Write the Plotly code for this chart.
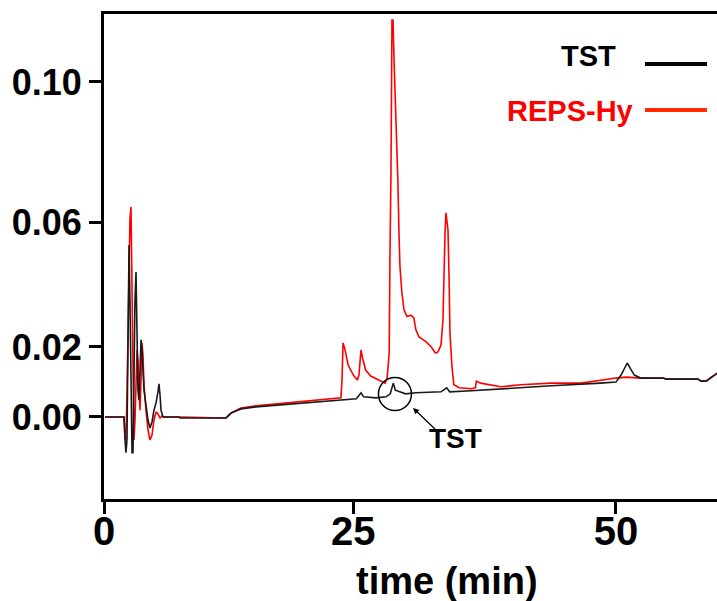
import plotly.graph_objects as go

# chromatogram traces (time in min, absorbance)
time_tst = [0.1, 1.95, 2.05, 2.14, 2.24, 2.34, 2.44, 2.53, 2.63, 2.73,
            2.83, 2.92, 3.02, 3.12, 3.22, 3.31, 3.41, 3.51, 3.61, 3.70,
            3.80, 3.90, 4.09, 4.29, 4.48, 4.68, 4.87, 5.07, 5.26, 5.36,
            5.46, 5.56, 5.75, 7.31, 7.41, 11.9, 12.4, 13.35, 14.8, 17.25,
            19.2, 21.15, 23.6, 24.6, 25.05, 25.3, 26.5, 27.5, 27.9, 28.2,
            28.4, 28.8, 29.4, 30.4, 32.85, 33.4, 33.7, 35.8, 38.7, 43.6,
            48.4, 49.9, 50.4, 51.0, 51.4, 51.7, 52.3, 54.5, 54.8, 57.9,
            58.2, 58.7, 59.2, 59.8]
abs_tst = [0, 0, -0.0069, -0.0107, -0.0069, 0.026, 0.0513, 0.035, 0.005, -0.0107,
           -0.0107, 0.014, 0.035, 0.0433, 0.026, 0.008, 0.005, 0.017, 0.023, 0.020,
           0.014, 0.008, 0.0036, -0.001, -0.0033, -0.0015, 0.002, 0.0042, 0.0075, 0.0099,
           0.0066, 0.002, 0.0, 0.0, -0.0003, -0.0003, 0.0012, 0.0024, 0.003, 0.0036,
           0.0039, 0.0045, 0.0051, 0.0054, 0.0072, 0.006, 0.0057, 0.006, 0.0069, 0.0101,
           0.008, 0.0075, 0.0069, 0.0072, 0.0075, 0.0087, 0.0075, 0.0078, 0.0084, 0.0093,
           0.0101, 0.0104, 0.0125, 0.0161, 0.014, 0.0125, 0.0116, 0.0116, 0.0113, 0.0113,
           0.0107, 0.0107, 0.0119, 0.0131]

time_reps = [0.1, 1.95, 2.05, 2.14, 2.24, 2.34, 2.44, 2.53, 2.63, 2.73,
             2.83, 2.92, 3.02, 3.12, 3.22, 3.31, 3.41, 3.51, 3.61, 3.70,
             3.80, 3.90, 4.09, 4.29, 4.48, 4.68, 4.87, 5.07, 5.26, 5.46,
             5.65, 5.85, 7.31, 11.9, 12.4, 13.35, 14.8, 17.25, 19.2, 21.15,
             22.6, 23.1, 23.2, 23.3, 23.45, 23.8, 24.3, 24.7, 24.85, 24.95,
             25.05, 25.2, 25.5, 26.0, 26.8, 27.4, 27.6, 27.8, 27.87, 27.97,
             28.07, 28.17, 28.27, 28.36, 28.56, 28.65, 28.75, 28.85, 29.04, 29.24,
             29.53, 29.92, 30.2, 30.4, 30.7, 31.4, 31.9, 32.3, 32.55, 32.85,
             33.04, 33.14, 33.24, 33.33, 33.43, 33.53, 33.63, 33.72, 33.92, 34.1,
             34.6, 35.8, 36.2, 36.3, 36.7, 37.7, 38.7, 40.6, 43.6, 46.5,
             48.4, 49.9, 50.9, 51.8, 52.3, 54.5, 54.8, 57.9, 58.2, 58.7,
             59.2, 59.8]
abs_reps = [0, 0, -0.0063, -0.0069, 0.0066, 0.023, 0.047, 0.059, 0.0627, 0.035,
            0.005, -0.0069, -0.001, 0.011, 0.020, 0.017, 0.008, 0.002, 0.011, 0.0221,
            0.0185, 0.0096, 0.002, -0.0039, -0.0069, -0.0054, -0.0009, 0.0015, 0.0009, -0.0003,
            0.0003, 0.0, 0.0, -0.0003, 0.0012, 0.0027, 0.0033, 0.0040, 0.0044, 0.0050,
            0.0054, 0.0057, 0.011, 0.0221, 0.0206, 0.0155, 0.0125, 0.011, 0.0125, 0.0176,
            0.020, 0.0176, 0.014, 0.0122, 0.011, 0.0101, 0.0116, 0.0191, 0.047, 0.0728,
            0.1185, 0.1185, 0.1066, 0.0985, 0.0836, 0.070, 0.055, 0.0448, 0.037, 0.032,
            0.030, 0.0304, 0.0296, 0.026, 0.0239, 0.0224, 0.0209, 0.0191, 0.0194, 0.0215,
            0.029, 0.0439, 0.055, 0.0609, 0.0573, 0.0558, 0.0424, 0.0251, 0.0149, 0.0096,
            0.0087, 0.0084, 0.0087, 0.0107, 0.0101, 0.0096, 0.009, 0.0096, 0.0101, 0.0101,
            0.011, 0.0116, 0.0119, 0.0116, 0.0116, 0.0116, 0.0113, 0.0113, 0.0107, 0.0107,
            0.0119, 0.0131]

assert len(time_tst) == len(abs_tst), (len(time_tst), len(abs_tst))
assert len(time_reps) == len(abs_reps), (len(time_reps), len(abs_reps))

# tick positions as printed on the original (spacing is slightly uneven there)
x_tickvals = [0, 24.3, 49.9]
x_ticktext = ['0', '25', '50']
y_tickvals = [0, 0.0209, 0.0582, 0.10]
y_ticktext = ['0.00', '0.02', '0.06', '0.10']

FONT = 'Liberation Sans'

fig = go.Figure()
fig.add_trace(go.Scatter(x=time_reps, y=abs_reps, mode='lines', name='REPS-Hy',
                         line=dict(color='#ff0000', width=1.6)))
fig.add_trace(go.Scatter(x=time_tst, y=abs_tst, mode='lines', name='TST',
                         line=dict(color='#1a1a1a', width=1.6)))

# circled TST peak + arrow + label
fig.add_shape(type='circle', xref='x', yref='y', x0=26.75, x1=29.97, y0=0.0019, y1=0.0118,
              line=dict(color='black', width=1.5))
fig.add_annotation(x=30.12, y=0.0027, text='', showarrow=True, ax=25, ay=24,
                   arrowhead=2, arrowsize=1, arrowwidth=1.2, arrowcolor='black')
fig.add_annotation(x=(455 - 104) / 613, y=(499 - 438) / 485, xref='paper', yref='paper',
                   text='TST', showarrow=False, xanchor='center', yanchor='middle',
                   font=dict(family=FONT, size=28, color='black', weight='bold'))

# legend drawn by hand: label left of the line sample
fig.add_annotation(x=(618 - 104) / 613, y=(499 - 56) / 485, xref='paper', yref='paper',
                   text='TST', showarrow=False, xanchor='right', yanchor='middle',
                   font=dict(family=FONT, size=29, color='black', weight='bold'))
fig.add_annotation(x=(635 - 104) / 613, y=(499 - 111) / 485, xref='paper', yref='paper',
                   text='REPS-Hy', showarrow=False, xanchor='right', yanchor='middle',
                   font=dict(family=FONT, size=29, color='#ff0000', weight='bold'))
fig.add_shape(type='line', xref='paper', yref='paper',
              x0=(645 - 104) / 613, x1=(707 - 104) / 613,
              y0=(499 - 64) / 485, y1=(499 - 64) / 485,
              line=dict(color='black', width=4))
fig.add_shape(type='line', xref='paper', yref='paper',
              x0=(645 - 104) / 613, x1=(707 - 104) / 613,
              y0=(499 - 110) / 485, y1=(499 - 110) / 485,
              line=dict(color='#ff2a00', width=4))

# axis title placed where the original has it
fig.add_annotation(x=(447 - 104) / 613, y=-(581 - 499) / 485, xref='paper', yref='paper',
                   text='time (min)', showarrow=False, xanchor='center', yanchor='middle',
                   font=dict(family=FONT, size=38, color='black', weight='bold'))

fig.update_layout(
    width=717, height=601,
    margin=dict(l=104, r=0, t=14, b=102),
    plot_bgcolor='white', paper_bgcolor='white',
    showlegend=False,
    xaxis=dict(range=[0, 59.75], tickvals=x_tickvals, ticktext=x_ticktext,
               showline=True, linecolor='black', linewidth=3, mirror=True,
               ticks='outside', ticklen=12, tickwidth=3, tickcolor='black',
               ticklabelstandoff=-17,
               showgrid=False, zeroline=False,
               tickfont=dict(family=FONT, size=40, color='black', weight='bold')),
    yaxis=dict(range=[-0.0245, 0.1203], tickvals=y_tickvals, ticktext=y_ticktext,
               showline=True, linecolor='black', linewidth=3,
               ticks='outside', ticklen=12, tickwidth=3, tickcolor='black',
               showgrid=False, zeroline=False,
               tickfont=dict(family=FONT, size=36, color='black', weight='bold')),
)

# drop the page's default body margin so the figure sits at the window origin
fig.write_html("out.html", config={'displayModeBar': False},
               post_script="document.body.style.margin = '0';")
